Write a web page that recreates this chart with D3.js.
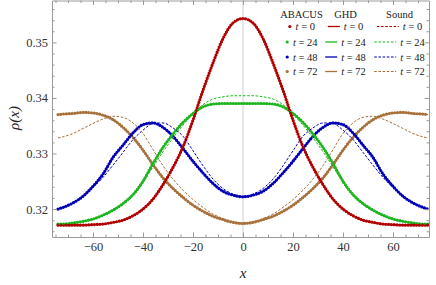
<!DOCTYPE html>
<html>
<head>
<meta charset="utf-8">
<script src="https://cdn.jsdelivr.net/npm/d3@7"></script>
<style>
  body { margin: 0; background: #fff; }
  svg { display: block; font-family: "Liberation Serif", "DejaVu Serif", serif; }
</style>
</head>
<body>
<svg width="436" height="285"></svg>
<script>
// Density profiles rho(x)
const xs = [-74, -72, -68, -64, -60, -56, -52, -48, -44, -40, -36, -32, -28, -24, -20, -16, -12, -8, -4,
  0, 4, 8, 12, 16, 20, 24, 28, 32, 36, 40, 44, 48, 52, 56, 60, 64, 68, 72, 74];

const ghd0 = [0.3171, 0.3171, 0.3171, 0.3171, 0.3172, 0.3173, 0.3176, 0.3180, 0.3188, 0.3200, 0.3218, 0.3244, 0.3275, 0.3312, 0.3360, 0.3414, 0.3463, 0.3507, 0.3535,
  0.3543,
  0.3535, 0.3507, 0.3463, 0.3414, 0.3360, 0.3312, 0.3275, 0.3244, 0.3218, 0.3200, 0.3188, 0.3180, 0.3176, 0.3173, 0.3172, 0.3171, 0.3171, 0.3171, 0.3171];
const ghd24 = [0.3173, 0.3173, 0.3175, 0.3178, 0.3182, 0.3189, 0.3198, 0.3210, 0.3226, 0.3250, 0.3282, 0.3311, 0.3335, 0.3356, 0.3372, 0.3384, 0.3389, 0.3390, 0.3390,
  0.3390,
  0.3390, 0.3390, 0.3389, 0.3384, 0.3372, 0.3356, 0.3335, 0.3311, 0.3282, 0.3250, 0.3226, 0.3210, 0.3198, 0.3189, 0.3182, 0.3178, 0.3175, 0.3173, 0.3173];
const ghd48 = [0.3200, 0.3203, 0.3211, 0.3223, 0.3241, 0.3263, 0.3293, 0.3315, 0.3337, 0.3352, 0.3355, 0.3347, 0.3331, 0.3309, 0.3286, 0.3265, 0.3246, 0.3232, 0.3225,
  0.3222,
  0.3225, 0.3232, 0.3246, 0.3265, 0.3286, 0.3309, 0.3331, 0.3347, 0.3355, 0.3352, 0.3337, 0.3315, 0.3293, 0.3263, 0.3241, 0.3223, 0.3211, 0.3203, 0.3200];
const ghd72 = [0.3370, 0.3371, 0.3372, 0.3374, 0.3373, 0.3369, 0.3361, 0.3347, 0.3329, 0.3306, 0.3280, 0.3256, 0.3237, 0.3221, 0.3207, 0.3196, 0.3187, 0.3181, 0.3176,
  0.3174,
  0.3176, 0.3181, 0.3187, 0.3196, 0.3207, 0.3221, 0.3237, 0.3256, 0.3280, 0.3306, 0.3329, 0.3347, 0.3361, 0.3369, 0.3373, 0.3374, 0.3372, 0.3371, 0.3370];

const sound0 = ghd0.slice(); // same initial profile
const sound24 = [0.3173, 0.3173, 0.3175, 0.3177, 0.3181, 0.3188, 0.3197, 0.3208, 0.3224, 0.3248, 0.3276, 0.3303, 0.3328, 0.3351, 0.3371, 0.3388, 0.3398, 0.3402, 0.3404,
  0.3404,
  0.3404, 0.3402, 0.3398, 0.3388, 0.3371, 0.3351, 0.3328, 0.3303, 0.3276, 0.3248, 0.3224, 0.3208, 0.3197, 0.3188, 0.3181, 0.3177, 0.3175, 0.3173, 0.3173];
const sound48 = [0.3200, 0.3203, 0.3212, 0.3224, 0.3239, 0.3257, 0.3279, 0.3302, 0.3325, 0.3342, 0.3354, 0.3355, 0.3346, 0.3331, 0.3305, 0.3278, 0.3254, 0.3237, 0.3227,
  0.3223,
  0.3227, 0.3237, 0.3254, 0.3278, 0.3305, 0.3331, 0.3346, 0.3355, 0.3354, 0.3342, 0.3325, 0.3302, 0.3279, 0.3257, 0.3239, 0.3224, 0.3212, 0.3203, 0.3200];
const sound72 = [0.3328, 0.3330, 0.3336, 0.3345, 0.3354, 0.3362, 0.3367, 0.3365, 0.3355, 0.3336, 0.3307, 0.3278, 0.3254, 0.3234, 0.3217, 0.3203, 0.3191, 0.3183, 0.3177,
  0.3175,
  0.3177, 0.3183, 0.3191, 0.3203, 0.3217, 0.3234, 0.3254, 0.3278, 0.3307, 0.3336, 0.3355, 0.3365, 0.3367, 0.3362, 0.3354, 0.3345, 0.3336, 0.3330, 0.3328];

// ABACUS points sit on top of the GHD curves
const abacus = [ghd0, ghd24, ghd48, ghd72];
const ghd = [ghd0, ghd24, ghd48, ghd72];
const sound = [sound0, sound24, sound48, sound72];

const times = ['0', '24', '48', '72'];
const colors = ['#b00000', '#1fb51f', '#0000b4', '#a8703a'];

const xTicks = [-60, -40, -20, 0, 20, 40, 60];
const yTicks = [0.32, 0.33, 0.34, 0.35];

const plotLeft = 52, plotRight = 429, plotTop = 0.5, plotBottom = 237;

const svg = d3.select('svg');

const x = d3.scaleLinear().domain([-76.4, 74.4]).range([plotLeft, plotRight]);
const y = d3.scaleLinear().domain([0.31497, 0.35754]).range([plotBottom, plotTop]);

svg.append('defs').append('clipPath').attr('id', 'clip')
  .append('rect')
  .attr('x', plotLeft).attr('y', plotTop)
  .attr('width', plotRight - plotLeft).attr('height', plotBottom - plotTop);

// vertical line at x = 0
svg.append('line')
  .attr('x1', x(0)).attr('x2', x(0))
  .attr('y1', plotTop).attr('y2', plotBottom)
  .attr('stroke', '#cfcfcf')
  .attr('stroke-width', 1);

const line = d3.line()
  .x((d, i) => x(xs[i]))
  .y(d => y(d))
  .curve(d3.curveMonotoneX);

const plot = svg.append('g').attr('clip-path', 'url(#clip)');

// GHD solid lines
plot.append('g').selectAll('path')
  .data(ghd)
  .enter().append('path')
  .attr('d', line)
  .attr('fill', 'none')
  .attr('stroke', (d, i) => colors[i])
  .attr('stroke-width', 1.3);

// ABACUS dots, drawn as round dashes along the curve
plot.append('g').selectAll('path')
  .data(abacus.slice().reverse())
  .enter().append('path')
  .attr('d', line)
  .attr('fill', 'none')
  .attr('stroke', (d, i) => colors[3 - i])
  .attr('stroke-width', 3.2)
  .attr('stroke-linecap', 'round')
  .attr('stroke-dasharray', '0,2.8');

// Sound dashed lines
plot.append('g').selectAll('path')
  .data(sound)
  .enter().append('path')
  .attr('d', line)
  .attr('fill', 'none')
  .attr('stroke', (d, i) => colors[i])
  .attr('stroke-width', 1)
  .attr('stroke-dasharray', '2.6,1.6');

// Frame with inward ticks on all sides
const frameColor = '#9a9a9a';
const labelColor = '#333';

const xMinor = d3.range(-75, 75, 5).filter(v => v % 20 !== 0);
const yMinor = d3.range(0.316, 0.357, 0.002).filter(v => Math.abs(Math.round(v * 100) - v * 100) > 1e-6);

function styleAxis(g) {
  g.selectAll('.domain').attr('stroke', frameColor);
  g.selectAll('.tick line').attr('stroke', frameColor);
  g.selectAll('.tick text')
    .attr('fill', labelColor)
    .style('font-size', '12.5px')
    .style('font-family', '"Liberation Serif", "DejaVu Serif", serif');
}

svg.append('g')
  .attr('transform', `translate(0,${plotBottom})`)
  .call(d3.axisBottom(x).tickValues(xTicks).tickSizeInner(-4.5).tickSizeOuter(0).tickPadding(5)
    .tickFormat(d3.format('d')))
  .call(styleAxis);
svg.append('g')
  .attr('transform', `translate(0,${plotBottom})`)
  .call(d3.axisBottom(x).tickValues(xMinor).tickSize(-2.5).tickFormat(''))
  .call(g => g.select('.domain').remove())
  .call(styleAxis);

svg.append('g')
  .attr('transform', `translate(0,${plotTop})`)
  .call(d3.axisTop(x).tickValues(xTicks).tickSizeInner(-4.5).tickSizeOuter(0).tickFormat(''))
  .call(styleAxis);
svg.append('g')
  .attr('transform', `translate(0,${plotTop})`)
  .call(d3.axisTop(x).tickValues(xMinor).tickSize(-2.5).tickFormat(''))
  .call(g => g.select('.domain').remove())
  .call(styleAxis);

svg.append('g')
  .attr('transform', `translate(${plotLeft},0)`)
  .call(d3.axisLeft(y).tickValues(yTicks).tickSizeInner(-4.5).tickSizeOuter(0).tickPadding(4)
    .tickFormat(d3.format('.2f')))
  .call(styleAxis);
svg.append('g')
  .attr('transform', `translate(${plotLeft},0)`)
  .call(d3.axisLeft(y).tickValues(yMinor).tickSize(-2.5).tickFormat(''))
  .call(g => g.select('.domain').remove())
  .call(styleAxis);

svg.append('g')
  .attr('transform', `translate(${plotRight},0)`)
  .call(d3.axisRight(y).tickValues(yTicks).tickSizeInner(-4.5).tickSizeOuter(0).tickFormat(''))
  .call(styleAxis);
svg.append('g')
  .attr('transform', `translate(${plotRight},0)`)
  .call(d3.axisRight(y).tickValues(yMinor).tickSize(-2.5).tickFormat(''))
  .call(g => g.select('.domain').remove())
  .call(styleAxis);

// Axis labels
svg.append('text')
  .attr('transform', `translate(19,118) rotate(-90)`)
  .attr('text-anchor', 'middle')
  .style('font-size', '15px')
  .style('font-style', 'italic')
  .attr('fill', '#222')
  .text('ρ(x)');

svg.append('text')
  .attr('x', x(0))
  .attr('y', 278)
  .attr('text-anchor', 'middle')
  .style('font-size', '15px')
  .style('font-style', 'italic')
  .attr('fill', '#222')
  .text('x');

// Legend: three columns, entries centred in each column
const legend = svg.append('g').style('font-size', '10.5px').attr('fill', '#222');
const colCenters = [301.5, 345.5, 399.5];
const headers = ['ABACUS', 'GHD', 'Sound'];
const rowY = [26.5, 42, 57, 71.5];

headers.forEach((h, c) => {
  legend.append('text')
    .attr('x', colCenters[c]).attr('y', 17.5)
    .attr('text-anchor', 'middle')
    .text(h);
});

const symbolWidths = [3.5, 12, 22];
const gap = 4;

times.forEach((t, r) => {
  for (let c = 0; c < 3; c++) {
    const item = legend.append('g');
    const label = item.append('text')
      .attr('y', rowY[r] + 3.5);
    label.append('tspan').style('font-style', 'italic').text('t');
    label.append('tspan').text(' = ' + t);
    const tw = label.node().getComputedTextLength();
    const total = symbolWidths[c] + gap + tw;
    const x0 = colCenters[c] - total / 2;
    label.attr('x', x0 + symbolWidths[c] + gap);
    if (c === 0) {
      item.append('circle')
        .attr('cx', x0 + 1.75).attr('cy', rowY[r])
        .attr('r', 1.6)
        .attr('fill', colors[r]);
    } else {
      item.append('line')
        .attr('x1', x0).attr('x2', x0 + symbolWidths[c])
        .attr('y1', rowY[r]).attr('y2', rowY[r])
        .attr('stroke', colors[r])
        .attr('stroke-width', c === 1 ? 1.3 : 1)
        .attr('stroke-dasharray', c === 2 ? '2.6,1.6' : null);
    }
  }
});
</script>
</body>
</html>
